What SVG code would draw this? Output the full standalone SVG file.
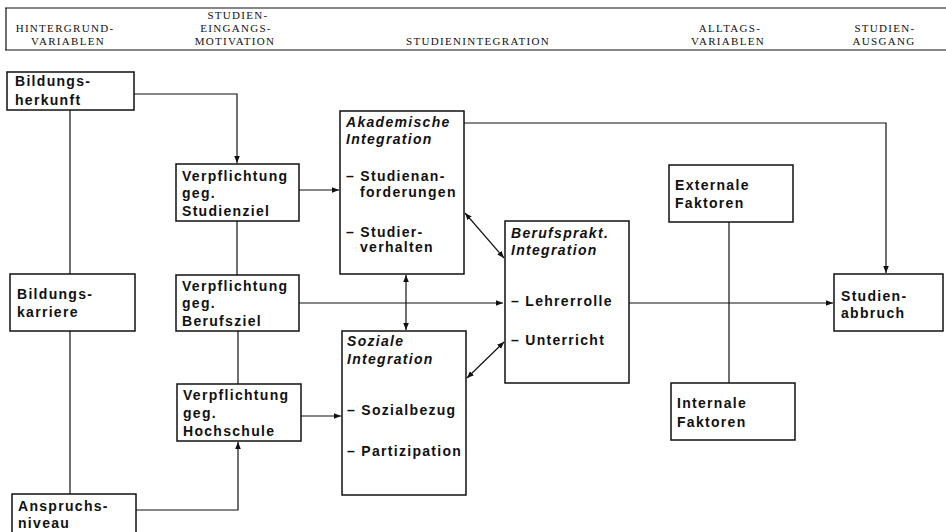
<svg xmlns="http://www.w3.org/2000/svg" width="946" height="532" viewBox="0 0 946 532">
<style>
.hd{font-family:"Liberation Serif",serif;font-size:11px;letter-spacing:1.3px;fill:#111;text-anchor:middle}
.box{fill:#fff;stroke:#111;stroke-width:1.5}
.t{font-family:"Liberation Sans",Arial,sans-serif;font-size:14px;font-weight:bold;letter-spacing:1.3px;fill:#111}
.ti{font-style:italic}
.ln{fill:none;stroke:#111;stroke-width:1.2}
</style>
<defs>
<marker id="ah" viewBox="0 0 10 10" refX="10" refY="5" markerWidth="7" markerHeight="7" markerUnits="userSpaceOnUse" orient="auto-start-reverse">
<path d="M0,1 L10,5 L0,9 Z" fill="#111"/>
</marker>
</defs>
<rect width="946" height="532" fill="#fff"/>
<g id="header">
<line x1="5" y1="8" x2="946" y2="8" class="ln"/>
<line x1="5" y1="50" x2="946" y2="50" class="ln"/>
<line x1="6" y1="8" x2="6" y2="50" class="ln"/>
<text class="hd" x="65" y="32">HINTERGRUND-</text>
<text class="hd" x="68" y="45">VARIABLEN</text>
<text class="hd" x="238" y="19">STUDIEN-</text>
<text class="hd" x="236" y="32">EINGANGS-</text>
<text class="hd" x="235" y="45">MOTIVATION</text>
<text class="hd" x="478" y="45">STUDIENINTEGRATION</text>
<text class="hd" x="730" y="32">ALLTAGS-</text>
<text class="hd" x="728" y="45">VARIABLEN</text>
<text class="hd" x="885" y="32">STUDIEN-</text>
<text class="hd" x="884" y="45">AUSGANG</text>
</g>
<g id="connectors">
<polyline class="ln" points="134,94 237,94 237,163" marker-end="url(#ah)"/>
<line class="ln" x1="70" y1="110" x2="70" y2="274"/>
<line class="ln" x1="70" y1="331" x2="70" y2="494"/>
<polyline class="ln" points="136,510 238,510 238,442" marker-end="url(#ah)"/>
<line class="ln" x1="237" y1="221" x2="237" y2="275"/>
<line class="ln" x1="238" y1="331" x2="238" y2="384"/>
<line class="ln" x1="299" y1="190" x2="339" y2="190" marker-end="url(#ah)"/>
<line class="ln" x1="299" y1="303" x2="503" y2="303" marker-end="url(#ah)"/>
<line class="ln" x1="301" y1="416" x2="341" y2="416" marker-end="url(#ah)"/>
<line class="ln" x1="406" y1="275" x2="406" y2="330" marker-start="url(#ah)" marker-end="url(#ah)"/>
<line class="ln" x1="465" y1="213" x2="504" y2="258" marker-start="url(#ah)" marker-end="url(#ah)"/>
<line class="ln" x1="467" y1="378" x2="504" y2="342" marker-start="url(#ah)" marker-end="url(#ah)"/>
<polyline class="ln" points="464,123 886,123 886,273" marker-end="url(#ah)"/>
<line class="ln" x1="629" y1="303" x2="833" y2="303" marker-end="url(#ah)"/>
<line class="ln" x1="729" y1="222" x2="729" y2="383"/>
</g>
<g id="bildungsherkunft">
<rect class="box" x="7" y="72" width="127" height="38"/>
<text class="t" x="15" y="86">Bildungs-</text>
<text class="t" x="15" y="105">herkunft</text>
</g>
<g id="bildungskarriere">
<rect class="box" x="10" y="274" width="125" height="57"/>
<text class="t" x="17" y="299">Bildungs-</text>
<text class="t" x="17" y="317">karriere</text>
</g>
<g id="anspruchsniveau">
<rect class="box" x="12" y="494" width="124" height="50"/>
<text class="t" x="18" y="511">Anspruchs-</text>
<text class="t" x="18" y="528">niveau</text>
</g>
<g id="studienziel">
<rect class="box" x="176" y="164" width="123" height="57"/>
<text class="t" x="182" y="181">Verpflichtung</text>
<text class="t" x="182" y="198">geg.</text>
<text class="t" x="182" y="216">Studienziel</text>
</g>
<g id="berufsziel">
<rect class="box" x="176" y="275" width="123" height="56"/>
<text class="t" x="182" y="291">Verpflichtung</text>
<text class="t" x="182" y="308">geg.</text>
<text class="t" x="182" y="326">Berufsziel</text>
</g>
<g id="hochschule">
<rect class="box" x="177" y="384" width="124" height="57"/>
<text class="t" x="183" y="400">Verpflichtung</text>
<text class="t" x="183" y="418">geg.</text>
<text class="t" x="183" y="436">Hochschule</text>
</g>
<g id="akademische">
<rect class="box" x="340" y="111" width="124" height="163"/>
<text class="t ti" x="346" y="127">Akademische</text>
<text class="t ti" x="346" y="144">Integration</text>
<text class="t" x="346" y="181">– Studienan-</text>
<text class="t" x="360" y="197">forderungen</text>
<text class="t" x="346" y="237">– Studier-</text>
<text class="t" x="360" y="252">verhalten</text>
</g>
<g id="soziale">
<rect class="box" x="342" y="331" width="124" height="164"/>
<text class="t ti" x="347" y="346">Soziale</text>
<text class="t ti" x="347" y="364">Integration</text>
<text class="t" x="347" y="415">– Sozialbezug</text>
<text class="t" x="347" y="456">– Partizipation</text>
</g>
<g id="berufsprakt">
<rect class="box" x="505" y="221" width="124" height="162"/>
<text class="t ti" x="511" y="238">Berufsprakt.</text>
<text class="t ti" x="511" y="255">Integration</text>
<text class="t" x="511" y="306">– Lehrerrolle</text>
<text class="t" x="511" y="345">– Unterricht</text>
</g>
<g id="externale">
<rect class="box" x="669" y="165" width="124" height="57"/>
<text class="t" x="675" y="190">Externale</text>
<text class="t" x="675" y="208">Faktoren</text>
</g>
<g id="internale">
<rect class="box" x="671" y="383" width="124" height="57"/>
<text class="t" x="677" y="408">Internale</text>
<text class="t" x="677" y="427">Faktoren</text>
</g>
<g id="studienabbruch">
<rect class="box" x="834" y="274" width="109" height="57"/>
<text class="t" x="841" y="301">Studien-</text>
<text class="t" x="841" y="318">abbruch</text>
</g>
</svg>
